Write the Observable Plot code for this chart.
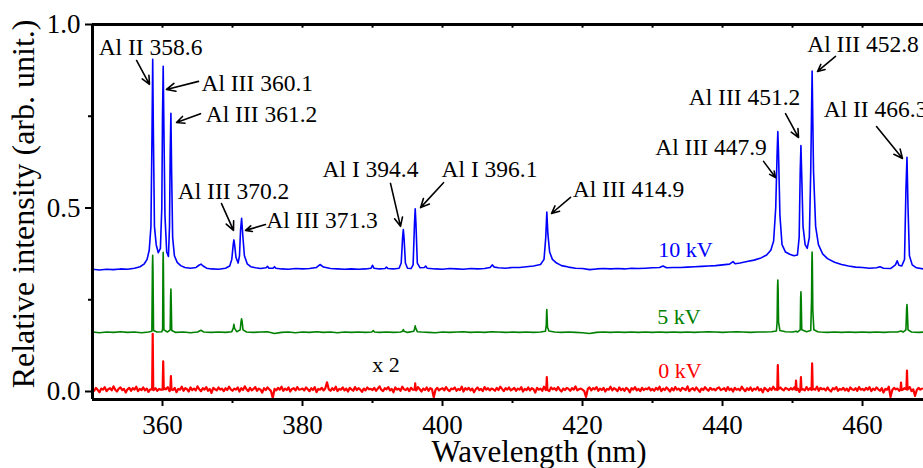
<!DOCTYPE html>
<html><head><meta charset="utf-8">
<script src="https://cdn.jsdelivr.net/npm/d3@7"></script>
<script src="https://cdn.jsdelivr.net/npm/@observablehq/plot@0.6"></script>
<style>html,body{margin:0;padding:0;background:#fff;overflow:hidden}</style>
</head><body><div id="chart"></div>
<script>
// ---- tick values ----
const xMajorTicks = [360, 380, 400, 420, 440, 460];
const xMinorTicks = [370, 390, 410, 430, 450];
const xTopTicks = [360, 370, 380, 390, 400, 410, 420, 430, 440, 450, 460];
const yMajorTicks = [0, 0.5, 1.0];
const yMinorTicks = [0.25, 0.75];

// ---- 10 kV spectrum (wavelength nm, relative intensity) ----
const blue10kV = [
[350,0.333],[351,0.331],[352,0.333],[353,0.332],[354,0.334],[355,0.333],[356,0.336],[356.8,0.340],[357.4,0.348],[357.8,0.36],[358.1,0.385],[358.35,0.45],[358.5,0.7],[358.6,0.905],[358.7,0.7],[358.85,0.45],[359.1,0.40],[359.4,0.378],[359.7,0.39],[359.9,0.5],[360.0,0.75],[360.1,0.886],[360.2,0.72],[360.35,0.48],[360.6,0.38],[360.85,0.368],[361.0,0.45],[361.1,0.65],[361.2,0.758],[361.3,0.6],[361.45,0.42],[361.7,0.37],[362.1,0.352],[362.6,0.343],[363.2,0.338],[364,0.336],[364.8,0.338],[365.2,0.344],[365.5,0.347],[365.8,0.342],[366.3,0.336],[367,0.334],[368,0.333],[369,0.336],[369.6,0.342],[369.9,0.36],[370.1,0.40],[370.2,0.413],[370.3,0.40],[370.5,0.365],[370.8,0.35],[371.0,0.37],[371.15,0.44],[371.3,0.472],[371.45,0.43],[371.7,0.37],[372.1,0.348],[372.6,0.34],[373.3,0.337],[374,0.335],[374.8,0.337],[375.0,0.341],[375.2,0.336],[375.8,0.336],[376.0,0.340],[376.2,0.336],[377,0.334],[378,0.333],[379,0.335],[380,0.334],[381,0.335],[382,0.338],[382.5,0.346],[383,0.339],[384,0.335],[385,0.334],[386,0.333],[387,0.334],[388,0.333],[389,0.334],[389.8,0.336],[390.0,0.344],[390.2,0.336],[391,0.334],[391.8,0.335],[392.0,0.339],[392.2,0.335],[393,0.334],[393.8,0.336],[394.1,0.35],[394.3,0.42],[394.4,0.441],[394.5,0.42],[394.7,0.35],[395.0,0.336],[395.5,0.335],[395.8,0.345],[396.0,0.46],[396.1,0.498],[396.2,0.46],[396.4,0.35],[396.8,0.337],[397.4,0.338],[397.6,0.342],[397.8,0.336],[399,0.334],[400,0.333],[401,0.335],[402,0.334],[403,0.333],[404,0.335],[405,0.334],[406,0.335],[406.8,0.338],[407.1,0.345],[407.4,0.339],[408,0.337],[409,0.336],[410,0.338],[411,0.338],[412,0.34],[413,0.342],[414,0.346],[414.5,0.36],[414.75,0.42],[414.9,0.489],[415.05,0.43],[415.3,0.38],[415.7,0.36],[416.3,0.35],[417,0.343],[418,0.339],[419,0.336],[420,0.335],[421,0.332],[422,0.334],[423,0.335],[424,0.334],[425,0.335],[426,0.334],[427,0.336],[428,0.335],[429,0.336],[430,0.337],[431,0.338],[431.5,0.342],[432,0.337],[433,0.338],[434,0.338],[435,0.339],[436,0.34],[437,0.341],[438,0.342],[439,0.343],[440,0.345],[441,0.347],[441.5,0.354],[441.8,0.348],[442.5,0.35],[443.5,0.354],[444.5,0.358],[445.5,0.364],[446.3,0.372],[446.9,0.385],[447.3,0.41],[447.6,0.5],[447.8,0.65],[447.9,0.708],[448.0,0.65],[448.2,0.48],[448.5,0.40],[449,0.38],[449.6,0.374],[450.2,0.37],[450.7,0.372],[450.95,0.42],[451.1,0.6],[451.2,0.670],[451.3,0.6],[451.5,0.45],[451.8,0.40],[452.1,0.39],[452.4,0.42],[452.6,0.6],[452.8,0.873],[453.0,0.6],[453.3,0.45],[453.7,0.40],[454.3,0.375],[455,0.362],[456,0.352],[457,0.346],[458,0.342],[459,0.339],[460,0.338],[461,0.336],[462,0.337],[462.5,0.34],[463,0.336],[464,0.335],[464.7,0.345],[464.95,0.356],[465.2,0.344],[465.6,0.342],[466.0,0.36],[466.2,0.55],[466.35,0.638],[466.5,0.5],[466.7,0.37],[467.1,0.345],[467.7,0.337],[468.7,0.334]
];

// ---- 5 kV spectrum ----
const green5kV = [
[350,0.162],[351,0.160],[352,0.162],[353,0.161],[354,0.163],[355,0.161],[356,0.162],[357,0.160],[358,0.162],
[358.48,0.164],[358.56,0.34],[358.6,0.371],[358.64,0.33],[358.72,0.166],[359.2,0.162],[359.9,0.163],
[360.02,0.17],[360.07,0.35],[360.1,0.379],[360.13,0.34],[360.2,0.168],[360.7,0.162],
[361.1,0.168],[361.16,0.26],[361.2,0.279],[361.24,0.25],[361.32,0.166],[361.9,0.161],
[363,0.162],[364,0.160],[365,0.162],[365.5,0.167],[365.9,0.162],[367,0.161],[368,0.162],[369,0.161],[369.9,0.163],
[370.1,0.172],[370.2,0.183],[370.3,0.172],[370.6,0.163],[371.1,0.168],[371.22,0.19],[371.3,0.198],[371.38,0.19],[371.5,0.168],[372,0.162],
[373,0.161],[374,0.162],[375,0.163],[376,0.158],[377,0.161],[378,0.162],[379,0.160],[380,0.162],[381,0.161],[382,0.163],[383,0.161],[384,0.162],[385,0.160],[386,0.162],[387,0.161],[388,0.162],[389,0.161],[389.9,0.162],[390.1,0.166],[390.3,0.162],[391,0.161],[392,0.162],[393,0.161],[394,0.162],
[394.3,0.164],[394.4,0.169],[394.5,0.164],[395,0.161],[395.9,0.164],[396.02,0.172],[396.1,0.179],[396.18,0.172],[396.4,0.163],[397,0.162],
[398,0.161],[399,0.160],[400,0.162],[401,0.161],[402,0.162],[403,0.163],[404,0.161],[405,0.162],[406,0.161],[407,0.163],[408,0.162],[409,0.161],[410,0.162],[411,0.161],[412,0.162],[413,0.161],[414,0.162],[414.7,0.164],
[414.82,0.18],[414.87,0.215],[414.9,0.223],[414.93,0.21],[415.0,0.175],[415.2,0.165],[416,0.162],
[417,0.161],[418,0.162],[419,0.161],[420,0.160],[421,0.158],[422,0.161],[423,0.162],[424,0.161],[425,0.162],[426,0.161],[427,0.162],[428,0.161],[429,0.162],[430,0.161],[431,0.162],[432,0.161],[433,0.162],[434,0.161],[435,0.162],[436,0.161],[437,0.162],[438,0.163],[439,0.162],[440,0.161],[441,0.162],[442,0.163],[443,0.162],[444,0.161],[445,0.162],[446,0.162],[447,0.163],[447.7,0.165],
[447.8,0.19],[447.86,0.285],[447.9,0.304],[447.94,0.28],[448.0,0.19],[448.2,0.166],[449,0.163],[450,0.162],[450.5,0.164],[450.7,0.162],
[451.1,0.168],[451.16,0.255],[451.2,0.272],[451.24,0.25],[451.32,0.168],[452,0.163],[452.6,0.166],
[452.72,0.25],[452.77,0.36],[452.8,0.380],[452.83,0.355],[452.9,0.22],[453.05,0.168],[453.6,0.163],
[454,0.162],[455,0.161],[456,0.162],[457,0.161],[458,0.162],[459,0.161],[460,0.162],[461,0.161],[462,0.162],[463,0.161],[464,0.162],[465,0.162],[465.5,0.165],[465.8,0.162],
[466.2,0.168],[466.3,0.225],[466.35,0.237],[466.4,0.22],[466.5,0.168],[467,0.162],[468,0.161],[468.7,0.162]
];

// ---- 0 kV spectrum (x 2): noisy baseline sampled every 0.25 nm from 350 nm, in thousandths ----
const red0kVStart = 350;
const red0kVStep = 0.25;
const red0kVNoise = [
7,2,10,4,-2,8,5,12,1,6,9,3,14,5,0,8,11,4,7,-3,6,10,2,9,5,13,1,7,4,11,3,8,-1,6,12,4,9,2,7,5,
3,9,6,12,1,8,4,10,-2,7,5,13,2,9,6,0,11,4,8,3,14,6,1,9,5,12,2,7,-4,10,6,3,11,5,8,1,9,4,13,6,
2,8,5,11,0,9,4,14,6,1,10,3,7,12,2,8,5,-3,9,4,11,6,1,-18,7,3,10,5,13,2,8,4,11,0,7,9,3,12,5,6,
8,3,11,6,1,9,4,12,-2,7,5,10,3,8,25,6,2,9,4,13,1,7,5,11,3,8,0,10,6,2,12,4,9,5,-1,8,3,11,6,7,
4,10,2,8,14,5,1,9,6,12,3,7,-2,11,5,8,2,13,6,4,9,1,10,5,7,3,12,6,0,8,4,11,2,9,6,-16,5,10,3,7,
9,3,12,5,1,8,6,11,2,7,4,13,0,9,5,10,3,8,-2,6,11,4,7,1,12,5,9,3,8,6,2,10,4,13,7,1,9,5,11,3,
6,10,2,8,5,12,0,7,4,11,3,9,6,-3,10,5,8,2,13,4,7,1,11,6,9,3,12,5,0,8,4,10,7,2,9,5,14,3,6,8,
5,1,-15,7,11,3,9,6,12,2,8,4,10,0,7,5,13,3,9,6,1,11,4,8,2,10,6,-2,9,5,12,3,7,1,10,4,8,6,11,3,
7,2,10,5,13,1,8,4,11,6,0,9,3,12,5,8,2,10,7,4,14,1,6,9,3,11,5,-1,8,4,12,6,2,10,5,7,3,9,11,4,
6,9,2,12,4,8,0,10,5,7,3,13,6,1,9,4,11,2,8,5,12,3,7,-2,10,6,1,9,4,13,5,8,2,11,6,3,10,7,4,9,
5,11,2,8,-1,10,6,3,12,4,9,1,7,5,13,2,10,6,8,3,11,4,0,9,6,12,2,7,5,10,3,8,1,11,6,4,9,2,12,5,
7,3,10,5,12,1,8,4,11,6,2,9,-3,7,5,13,-15,4,10,6,8,2,11,5,9,3,7,12,1,6,-12,4,10,5,8
];
// 0 kV emission lines (explicit profile points)
const red0kVPeaks = [
[[358.52,0.006],[358.6,0.157],[358.68,0.004]],
[[360.02,0.005],[360.1,0.082],[360.18,0.006]],
[[361.12,0.004],[361.2,0.042],[361.28,0.006]],
[[396.02,0.005],[396.1,0.022],[396.18,0.004]],
[[414.82,0.006],[414.9,0.039],[414.98,0.005]],
[[447.82,0.004],[447.9,0.072],[447.98,0.006]],
[[450.42,0.005],[450.5,0.030],[450.58,0.004]],
[[451.12,0.006],[451.2,0.039],[451.28,0.005]],
[[452.72,0.004],[452.8,0.077],[452.88,0.006]],
[[465.42,0.005],[465.5,0.024],[465.58,0.004]],
[[466.27,0.006],[466.35,0.057],[466.43,0.005]]
];

// ---- line identifications: label text, label centre, arrow start -> arrow tip (data units) ----
const lineLabels = [
  {label: "Al II 358.6",  x: 358.29, y: 0.937, x1: 356.29, y1: 0.902, x2: 358.14, y2: 0.837},
  {label: "Al III 360.1", x: 373.53, y: 0.839, x1: 365.14, y1: 0.845, x2: 360.57, y2: 0.823},
  {label: "Al III 361.2", x: 374.14, y: 0.755, x1: 365.43, y1: 0.757, x2: 362.00, y2: 0.733},
  {label: "Al III 370.2", x: 370.14, y: 0.545, x1: 368.43, y1: 0.512, x2: 370.14, y2: 0.439},
  {label: "Al III 371.3", x: 382.79, y: 0.466, x1: 374.71, y1: 0.455, x2: 371.86, y2: 0.439},
  {label: "Al I 394.4",   x: 389.71, y: 0.605, x1: 392.57, y1: 0.567, x2: 394.00, y2: 0.450},
  {label: "Al I 396.1",   x: 406.71, y: 0.605, x1: 400.14, y1: 0.569, x2: 396.86, y2: 0.501},
  {label: "Al III 414.9", x: 426.57, y: 0.550, x1: 418.29, y1: 0.529, x2: 415.57, y2: 0.485},
  {label: "Al III 447.9", x: 438.36, y: 0.665, x1: 445.86, y1: 0.627, x2: 447.57, y2: 0.583},
  {label: "Al III 451.2", x: 443.14, y: 0.801, x1: 449.00, y1: 0.757, x2: 450.86, y2: 0.692},
  {label: "Al III 452.8", x: 460.07, y: 0.946, x1: 456.14, y1: 0.913, x2: 453.57, y2: 0.872},
  {label: "Al II 466.3",  x: 461.86, y: 0.768, x1: 462.00, y1: 0.722, x2: 465.71, y2: 0.635}
];

// ---- series labels ----
const seriesNames = ["10 kV", "5 kV", "0 kV"];
const seriesLabelX = [434.71, 433.79, 433.93];
const seriesLabelY = [0.387, 0.204, 0.057];
const scaleNote = {label: "x 2", x: 391.93, y: 0.071};

// ---- axis titles (centre position in data units) ----
const xTitle = {label: "Wavelength (nm)", x: 413.79, y: -0.166};
const yTitle = {label: "Relative intensity (arb. unit.)", x: 340.14, y: 0.511};

// ---- assemble the 0 kV series ----
const redGrid = red0kVNoise.map((v, i) => [red0kVStart + i * red0kVStep, v / 1000]);
const redRanges = red0kVPeaks.map(p => [p[0][0], p[p.length - 1][0]]);
const red0kV = redGrid
  .filter(([w]) => !redRanges.some(([a, b]) => w >= a - 0.03 && w <= b + 0.03))
  .concat(red0kVPeaks.flat())
  .sort((a, b) => a[0] - b[0]);

const colors = {blue: "#0000ff", green: "#008000", red: "#ff0000"};
const serif = "'Liberation Serif', 'Times New Roman', serif";
const yMin = -0.0218;

const chart = Plot.plot({
  width: 923, height: 468,
  marginLeft: 92, marginRight: 0, marginTop: 24, marginBottom: 69,
  x: {domain: [350, 468.71], label: null},
  y: {domain: [yMin, 1.0], label: null},
  style: {fontFamily: serif, fontSize: "27px", color: "black", background: "white", overflow: "visible"},
  marks: [
    Plot.line(red0kV, {x: d => d[0], y: d => d[1], stroke: colors.red, strokeWidth: 2.2, clip: true}),
    Plot.line(green5kV, {x: d => d[0], y: d => d[1], stroke: colors.green, strokeWidth: 1.6, clip: true}),
    Plot.line(blue10kV, {x: d => d[0], y: d => d[1], stroke: colors.blue, strokeWidth: 1.6, clip: true}),
    Plot.ruleX([350], {stroke: "black", strokeWidth: 3}),
    Plot.ruleY([yMin], {stroke: "black", strokeWidth: 3}),
    Plot.ruleY([1.0], {stroke: "black", strokeWidth: 3}),
    Plot.axisX(xMajorTicks, {tickSize: 7, tickPadding: 8, strokeWidth: 2, fontSize: 27, label: null}),
    Plot.axisX(xMinorTicks, {tickSize: 4, text: null, strokeWidth: 2, label: null}),
    Plot.ruleX(xTopTicks, {y1: 1.0, y2: 0.99, stroke: "black", strokeWidth: 2}),
    Plot.axisY(yMajorTicks, {tickSize: 7, tickPadding: 5, strokeWidth: 2, fontSize: 27, tickFormat: d3.format(".1f"), label: null}),
    Plot.axisY(yMinorTicks, {tickSize: 4, text: null, strokeWidth: 2, label: null}),
    Plot.arrow(lineLabels, {x1: "x1", y1: "y1", x2: "x2", y2: "y2", stroke: "black", strokeWidth: 1.6, headLength: 9, headAngle: 50}),
    Plot.text(lineLabels, {x: "x", y: "y", text: "label", fontSize: 23.5, fill: "black", lineAnchor: "middle"}),
    Plot.text([seriesNames[0]], {x: seriesLabelX[0], y: seriesLabelY[0], text: d => d, fill: colors.blue, fontSize: 22, lineAnchor: "middle"}),
    Plot.text([seriesNames[1]], {x: seriesLabelX[1], y: seriesLabelY[1], text: d => d, fill: colors.green, fontSize: 22, lineAnchor: "middle"}),
    Plot.text([seriesNames[2]], {x: seriesLabelX[2], y: seriesLabelY[2], text: d => d, fill: colors.red, fontSize: 22, lineAnchor: "middle"}),
    Plot.text([scaleNote], {x: "x", y: "y", text: "label", fill: "black", fontSize: 22, lineAnchor: "middle"}),
    Plot.text([xTitle], {x: "x", y: "y", text: "label", fontSize: 31, textAnchor: "middle", lineAnchor: "middle", fill: "black"}),
    Plot.text([yTitle], {x: "x", y: "y", text: "label", fontSize: 32, rotate: -90, textAnchor: "middle", lineAnchor: "middle", fill: "black"})
  ]
});
document.getElementById("chart").appendChild(chart);
</script>
</body></html>
